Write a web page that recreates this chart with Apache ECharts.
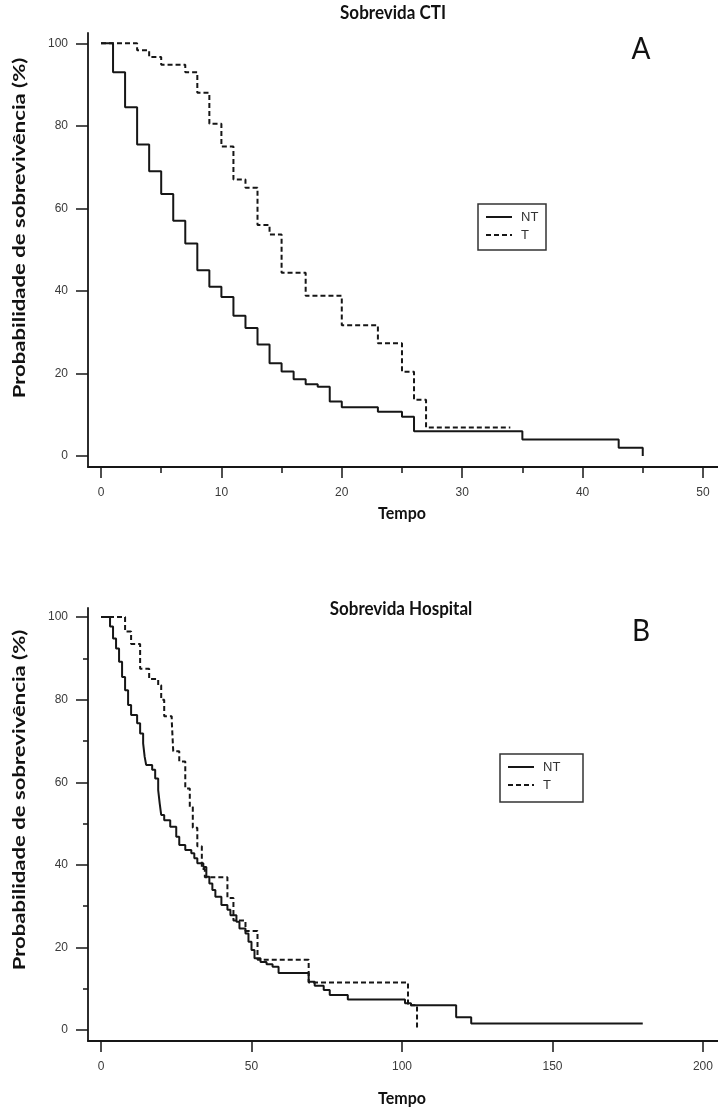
<!DOCTYPE html>
<html><head><meta charset="utf-8">
<script src="https://cdn.jsdelivr.net/npm/echarts@6/dist/echarts.min.js"></script>
<style>html,body{margin:0;padding:0;background:#fff}#c{width:718px;height:1110px}</style>
</head><body><div id="c"></div>
<script>
// ---- Data: Sobrevida CTI (A) ----
const ctiTimeNT = [0,1,2,3,4,5,6,7,8,9,10,11,12,13,14,15,16,17,18,19,20,23,25,26,35,43,45];
const ctiSurvNT = [100,93,84.5,75.5,69,63.5,57,51.5,45,41,38.5,34,31,27,22.5,20.5,18.6,17.4,16.8,13.2,11.8,10.7,9.5,6,4,2,0];
const ctiTimeT  = [0,3,4,5,7,8,9,10,11,12,13,14,15,17,20,23,25,26,27,34];
const ctiSurvT  = [100,98.3,96.7,94.8,93,88,80.5,75,67,65,56,53.7,44.4,38.8,31.7,27.3,20.4,13.6,6.9,6.9];
// ---- Data: Sobrevida Hospital (B) ----
const hospTimeNT = [0,3,4,5,6,7,8,9,10,12,13,14,14.5,15,17,18,19,19.5,20,21,23,25,26,28,30,31,32,34,35,36,37,38,40,42,43,45,46,48,49,50,51,53,55,57,59,69,71,74,76,82,101,103,118,123,180];
const hospSurvNT = [100,97.7,94.8,92.4,89.2,85.5,82.3,78.7,76.3,74.3,71.8,69.4,66.2,64.2,63,60.9,58.1,54.9,52.1,50.8,49.2,46.8,44.8,43.6,42.8,41.6,40.4,39.5,37.1,35.5,33.9,32.3,30.3,29.1,27.8,26.2,24.6,23.4,21.4,19.4,17.4,16.5,15.9,15.3,13.8,11.7,10.7,9.7,8.5,7.4,6.5,6.0,3.1,1.6,1.6];
const hospTimeT  = [0,8,10,13,16,19,20,21,23.5,24,26,28,29.5,30.5,32,33.5,34.5,42,44,48,52,69,102,105];
const hospSurvT  = [100,96.5,93.5,87.5,85,83.5,80,76,75,67.5,65,58.5,54,49,44.5,39,37,32,26.5,24,17,11.5,6,0];
// ---- Tick labels ----
const yTicks = [0,20,40,60,80,100];
const yMinor = [10,30,50,70,90];
const ctiXTicks = [0,10,20,30,40,50];
const ctiXMinor = [5,15,25,35,45];
const hospXTicks = [0,50,100,150,200];
const seriesNames = ['NT','T'];
const titles = ['Sobrevida CTI','Sobrevida Hospital'];
const panelLetters = ['A','B'];
const xName = 'Tempo';
const yName = 'Probabilidade de sobrevivência (%)';

const pairs = (t, s) => t.map((v, i) => [v, s[i]]);
const INK = '#161616';
const labelStyle = {fontSize: 12, fontFamily: 'Liberation Sans, Arial', color: '#3a3a3a'};
const lineAx = {onZero: false, lineStyle: {color: INK, width: 1.8}};
const tickLS = {color: INK, width: 1.5};

function xAx(grid, min, max, ticks) {
  return {
    gridIndex: grid, type: 'value', min: min, max: max, position: 'bottom',
    axisLine: lineAx,
    axisTick: {customValues: ticks, length: 11, lineStyle: tickLS},
    axisLabel: Object.assign({customValues: ticks, margin: 20}, labelStyle),
    splitLine: {show: false}
  };
}
function minorX(grid, min, max, ticks) {
  return {gridIndex: grid, type: 'value', min: min, max: max, position: 'bottom',
    axisLine: {show: false, onZero: false},
    axisTick: {customValues: ticks, length: 6, lineStyle: tickLS},
    axisLabel: {show: false}, splitLine: {show: false}};
}
function yAx(grid, min, max) {
  return {
    gridIndex: grid, type: 'value', min: min, max: max, position: 'left',
    axisLine: lineAx,
    axisTick: {customValues: yTicks, length: 12, lineStyle: tickLS},
    axisLabel: Object.assign({customValues: yTicks, margin: 20}, labelStyle),
    splitLine: {show: false}
  };
}
function minorY(grid, min, max) {
  return {gridIndex: grid, type: 'value', min: min, max: max, position: 'left',
    axisLine: {show: false, onZero: false},
    axisTick: {customValues: yMinor, length: 5, lineStyle: tickLS},
    axisLabel: {show: false}, splitLine: {show: false}};
}
function ser(name, xi, yi, data, dashed) {
  return {
    name: name, type: 'line', step: 'end', xAxisIndex: xi, yAxisIndex: yi,
    data: data, symbol: 'none', animation: false,
    lineStyle: {color: INK, width: 2, type: dashed ? [5, 3] : 'solid'}
  };
}
function legendBox(x, y, w, h) {
  const els = [{type: 'rect', shape: {x: x, y: y, width: w, height: h},
    style: {fill: '#fff', stroke: '#333', lineWidth: 1.5}}];
  seriesNames.forEach((n, i) => {
    const cy = y + 13 + i * 18;
    els.push({type: 'line', shape: {x1: x + 8, y1: cy, x2: x + 34, y2: cy},
      style: {stroke: INK, lineWidth: 2, lineDash: i ? [5, 3] : null}});
    els.push({type: 'text', x: x + 43, y: cy,
      style: {text: n, font: '13px "Liberation Sans", Arial', fill: '#333', textVerticalAlign: 'middle'}});
  });
  return els;
}
function titleText(t, x, y) {
  return {type: 'text', x: x, y: y, scaleY: 1.15,
    style: {text: t, font: 'bold 17px Lato', fill: '#111', textAlign: 'center', textVerticalAlign: 'middle'}};
}
function letter(t, x, y) {
  return {type: 'text', x: x, y: y, scaleY: 1.1,
    style: {text: t, font: '28px Lato', fill: '#111', textAlign: 'center', textVerticalAlign: 'middle'}};
}
function yLabel(y) {
  return {type: 'text', x: 20, y: y, rotation: Math.PI / 2, scaleX: 1.3,
    style: {text: yName, font: 'bold 17px Lato', fill: '#111', textAlign: 'center', textVerticalAlign: 'middle'}};
}
function xLabel(y) {
  return {type: 'text', x: 402, y: y, scaleY: 1.12,
    style: {text: xName, font: 'bold 16px Lato', fill: '#111', textAlign: 'center', textVerticalAlign: 'middle'}};
}

const chart = echarts.init(document.getElementById('c'), null, {renderer: 'canvas'});
chart.setOption({
  backgroundColor: '#fff',
  animation: false,
  grid: [
    {left: 88, top: 33, width: 630, height: 434},
    {left: 88, top: 608, width: 630, height: 433}
  ],
  xAxis: [
    xAx(0, -1.08, 51.25, ctiXTicks),
    minorX(0, -1.08, 51.25, ctiXMinor),
    xAx(1, -4.32, 205, hospXTicks)
  ],
  yAxis: [yAx(0, -2.67, 102.5), yAx(1, -2.66, 102.2), minorY(1, -2.66, 102.2)],
  series: [
    ser('NT', 0, 0, pairs(ctiTimeNT, ctiSurvNT), false),
    ser('T', 0, 0, pairs(ctiTimeT, ctiSurvT), true),
    ser('NT', 2, 1, pairs(hospTimeNT, hospSurvNT), false),
    ser('T', 2, 1, pairs(hospTimeT, hospSurvT), true)
  ],
  graphic: [
    titleText(titles[0], 393, 13),
    letter(panelLetters[0], 641, 49),
    titleText(titles[1], 401, 609),
    letter(panelLetters[1], 641, 631),
    yLabel(228),
    yLabel(800),
    xLabel(513),
    xLabel(1098)
  ].concat(legendBox(478, 204, 68, 46), legendBox(500, 754, 83, 48))
});
</script></body></html>
